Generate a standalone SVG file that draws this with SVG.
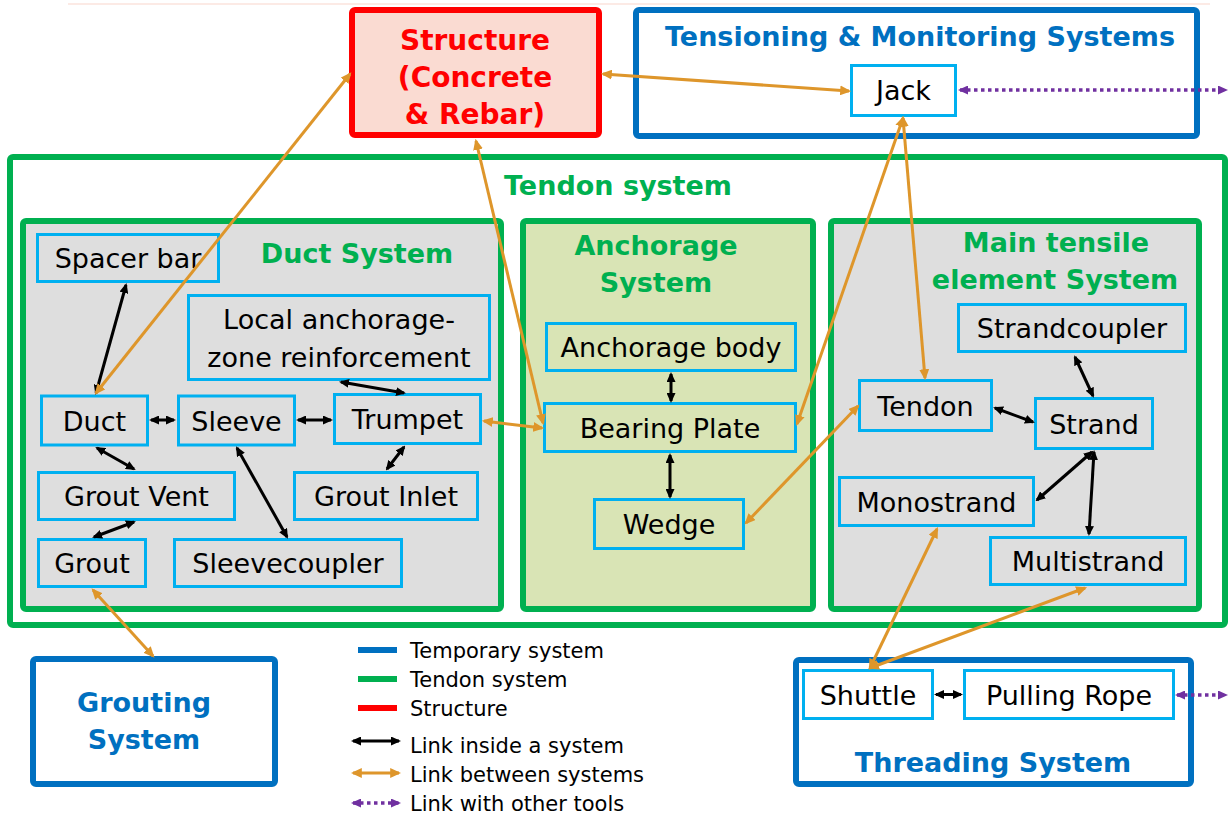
<svg xmlns="http://www.w3.org/2000/svg" width="1230" height="817" viewBox="0 0 1230 817">
  <style>
    text { font-family: "DejaVu Sans", Verdana, "Liberation Sans", sans-serif; }
    .node rect { fill: #DEDEDE; stroke: #00B0F0; stroke-width: 3; }
    .node.anch rect { fill: #D9E4B5; }
    .node.white rect { fill: #FFFFFF; }
    .node text { font-size: 27px; fill: #000; text-anchor: middle; }
    .sys { stroke-width: 6; }
    .green { stroke: #00B050; }
    .blue { stroke: #0070C0; fill: #FFFFFF; }
    .title { font-size: 27px; font-weight: bold; text-anchor: middle; }
    .tg { fill: #00B050; }
    .tb { fill: #0070C0; }
    .tr { fill: #FF0000; }
    .in { stroke: #000; stroke-width: 3; fill: none; marker-start: url(#ahB); marker-end: url(#ahB); }
    .out { stroke: #DE962B; stroke-width: 3; fill: none; marker-start: url(#ahO); marker-end: url(#ahO); }
    .tool { stroke: #7030A0; stroke-width: 3.5; stroke-dasharray: 3.5 3.5; fill: none; marker-start: url(#ahP); marker-end: url(#ahP); }
    .legend text { font-size: 21px; fill: #000; }
  </style>
  <defs>
    <marker id="ahB" viewBox="0 0 10 9" refX="8" refY="4.5" markerWidth="10" markerHeight="9" markerUnits="userSpaceOnUse" orient="auto-start-reverse">
      <path d="M0,0 L10,4.5 L0,9 z" fill="#000"/>
    </marker>
    <marker id="ahO" viewBox="0 0 10 9" refX="8" refY="4.5" markerWidth="11" markerHeight="10" markerUnits="userSpaceOnUse" orient="auto-start-reverse">
      <path d="M0,0 L10,4.5 L0,9 z" fill="#DE962B"/>
    </marker>
    <marker id="ahP" viewBox="0 0 10 9" refX="8" refY="4.5" markerWidth="10" markerHeight="9" markerUnits="userSpaceOnUse" orient="auto-start-reverse">
      <path d="M0,0 L10,4.5 L0,9 z" fill="#7030A0"/>
    </marker>
  </defs>

  <rect width="1230" height="817" fill="#FFFFFF"/>
  <line x1="68" y1="4" x2="1210" y2="4" stroke="#FBE3DC" stroke-width="1.5"/>

  <!-- Containers -->
  <g id="tendon-system">
    <rect class="sys green" x="10" y="157" width="1215" height="468" rx="3" fill="#FFFFFF"/>
    <text class="title tg" x="618" y="195">Tendon system</text>
  </g>
  <g id="duct-system">
    <rect class="sys green" x="23" y="221" width="478" height="388" rx="3" fill="#DEDEDE"/>
    <text class="title tg" x="357" y="263">Duct System</text>
  </g>
  <g id="anchorage-system">
    <rect class="sys green" x="523" y="221" width="290" height="388" rx="3" fill="#D9E4B5"/>
    <text class="title tg" x="656" y="255">Anchorage</text>
    <text class="title tg" x="656" y="292">System</text>
  </g>
  <g id="tensile-system">
    <rect class="sys green" x="831" y="221" width="368" height="388" rx="3" fill="#DEDEDE"/>
    <text class="title tg" x="1056" y="252">Main tensile</text>
    <text class="title tg" x="1055" y="289">element System</text>
  </g>
  <g id="structure">
    <rect class="sys" x="352" y="10" width="247" height="125" rx="3" fill="#FADBD2" stroke="#FF0000"/>
    <text class="title tr" x="475" y="50" style="font-size:28px">Structure</text>
    <text class="title tr" x="475" y="87" style="font-size:28px">(Concrete</text>
    <text class="title tr" x="475" y="124" style="font-size:28px">&amp; Rebar)</text>
  </g>
  <g id="tensioning-system">
    <rect class="sys blue" x="636" y="10" width="561" height="126" rx="3"/>
    <text class="title tb" x="920" y="46">Tensioning &amp; Monitoring Systems</text>
  </g>
  <g id="grouting-system">
    <rect class="sys blue" x="33" y="659" width="242" height="125" rx="3"/>
    <text class="title tb" x="144" y="712">Grouting</text>
    <text class="title tb" x="144" y="749">System</text>
  </g>
  <g id="threading-system">
    <rect class="sys blue" x="796" y="660" width="395" height="124" rx="3"/>
    <text class="title tb" x="993" y="772">Threading System</text>
  </g>

  <!-- Components -->
  <g id="jack" class="node white"><rect x="851.5" y="65.5" width="104" height="50"/><text x="903.5" y="100">Jack</text></g>
  <g id="spacer-bar" class="node"><rect x="37.5" y="234.5" width="181" height="47"/><text x="128" y="268">Spacer bar</text></g>
  <g id="local-anchorage" class="node"><rect x="188.5" y="295.5" width="301" height="84"/><text x="339" y="329">Local anchorage-</text><text x="339" y="367">zone reinforcement</text></g>
  <g id="duct" class="node"><rect x="41.5" y="396" width="106" height="49"/><text x="94.5" y="431">Duct</text></g>
  <g id="sleeve" class="node"><rect x="178.5" y="396" width="116" height="49"/><text x="236.5" y="431">Sleeve</text></g>
  <g id="trumpet" class="node"><rect x="334.5" y="394.5" width="146" height="49"/><text x="407.5" y="429">Trumpet</text></g>
  <g id="grout-vent" class="node"><rect x="38.5" y="472.5" width="196" height="47"/><text x="136.5" y="506">Grout Vent</text></g>
  <g id="grout-inlet" class="node"><rect x="294.5" y="472.5" width="183" height="47"/><text x="386" y="506">Grout Inlet</text></g>
  <g id="grout" class="node"><rect x="38.5" y="539.5" width="107" height="47"/><text x="92" y="573">Grout</text></g>
  <g id="sleevecoupler" class="node"><rect x="174.5" y="539.5" width="227" height="47"/><text x="288" y="573">Sleevecoupler</text></g>
  <g id="anchorage-body" class="node anch"><rect x="546.5" y="323.5" width="249" height="47"/><text x="671" y="357">Anchorage body</text></g>
  <g id="bearing-plate" class="node anch"><rect x="544.5" y="403.5" width="251" height="48"/><text x="670" y="438">Bearing Plate</text></g>
  <g id="wedge" class="node anch"><rect x="594.5" y="499.5" width="149" height="49"/><text x="669" y="534">Wedge</text></g>
  <g id="strandcoupler" class="node"><rect x="958.5" y="304.5" width="227" height="47"/><text x="1072" y="338">Strandcoupler</text></g>
  <g id="tendon" class="node"><rect x="859.5" y="380.5" width="132" height="50"/><text x="925.5" y="416">Tendon</text></g>
  <g id="strand" class="node"><rect x="1035.5" y="398.5" width="117" height="50"/><text x="1094" y="434">Strand</text></g>
  <g id="monostrand" class="node"><rect x="839.5" y="477.5" width="194" height="48"/><text x="936.5" y="512">Monostrand</text></g>
  <g id="multistrand" class="node"><rect x="990.5" y="537.5" width="195" height="47"/><text x="1088" y="571">Multistrand</text></g>
  <g id="shuttle" class="node white"><rect x="803.5" y="670.5" width="129" height="48"/><text x="868" y="705">Shuttle</text></g>
  <g id="pulling-rope" class="node white"><rect x="964.5" y="670.5" width="209" height="48"/><text x="1069" y="705">Pulling Rope</text></g>

  <!-- Connectors -->
  <g id="connectors">
    <!-- links inside a system -->
    <line class="in" x1="126" y1="285" x2="96" y2="393"/>
    <line class="in" x1="151" y1="420" x2="174" y2="420"/>
    <line class="in" x1="298" y1="420" x2="331" y2="420"/>
    <line class="in" x1="341" y1="382" x2="404" y2="393"/>
    <line class="in" x1="404" y1="447" x2="387" y2="469"/>
    <line class="in" x1="97" y1="448" x2="134" y2="469"/>
    <line class="in" x1="134" y1="522" x2="94" y2="537"/>
    <line class="in" x1="237" y1="448" x2="287" y2="537"/>
    <line class="in" x1="671" y1="374" x2="671" y2="401"/>
    <line class="in" x1="670" y1="455" x2="670" y2="497"/>
    <line class="in" x1="1075" y1="357" x2="1093" y2="396"/>
    <line class="in" x1="995" y1="408" x2="1033" y2="422"/>
    <line class="in" x1="1092" y1="452" x2="1037" y2="500"/>
    <line class="in" x1="1094" y1="452" x2="1089" y2="534"/>
    <line class="in" x1="936" y1="694.5" x2="961" y2="694.5"/>
    <!-- links between systems -->
    <line class="out" x1="96" y1="393" x2="350" y2="74"/>
    <line class="out" x1="476" y1="141" x2="543" y2="423"/>
    <line class="out" x1="484" y1="421" x2="542" y2="428"/>
    <line class="out" x1="603" y1="74" x2="849" y2="91"/>
    <line class="out" x1="903" y1="118" x2="797" y2="424"/>
    <line class="out" x1="903" y1="118" x2="925" y2="378"/>
    <line class="out" x1="746" y1="523" x2="858" y2="406"/>
    <line class="out" x1="93" y1="590" x2="153" y2="656"/>
    <line class="out" x1="937" y1="529" x2="870" y2="668"/>
    <line class="out" x1="1085" y1="588" x2="870" y2="668"/>
    <!-- links with other tools -->
    <line class="tool" x1="960" y1="90" x2="1226" y2="90"/>
    <line class="tool" x1="1177" y1="695" x2="1226" y2="695"/>
  </g>

  <!-- Legend -->
  <g id="legend" class="legend">
    <line x1="358" y1="650" x2="397" y2="650" stroke="#0070C0" stroke-width="6"/>
    <text x="410" y="658">Temporary system</text>
    <line x1="358" y1="679" x2="397" y2="679" stroke="#00B050" stroke-width="6"/>
    <text x="410" y="687">Tendon system</text>
    <line x1="358" y1="708" x2="397" y2="708" stroke="#FF0000" stroke-width="6"/>
    <text x="410" y="716">Structure</text>
    <line class="in" x1="353" y1="741" x2="399" y2="741"/>
    <text x="410" y="753">Link inside a system</text>
    <line class="out" x1="353" y1="773" x2="399" y2="773"/>
    <text x="410" y="782">Link between systems</text>
    <line class="tool" x1="353" y1="803" x2="399" y2="803"/>
    <text x="410" y="811">Link with other tools</text>
  </g>
</svg>
